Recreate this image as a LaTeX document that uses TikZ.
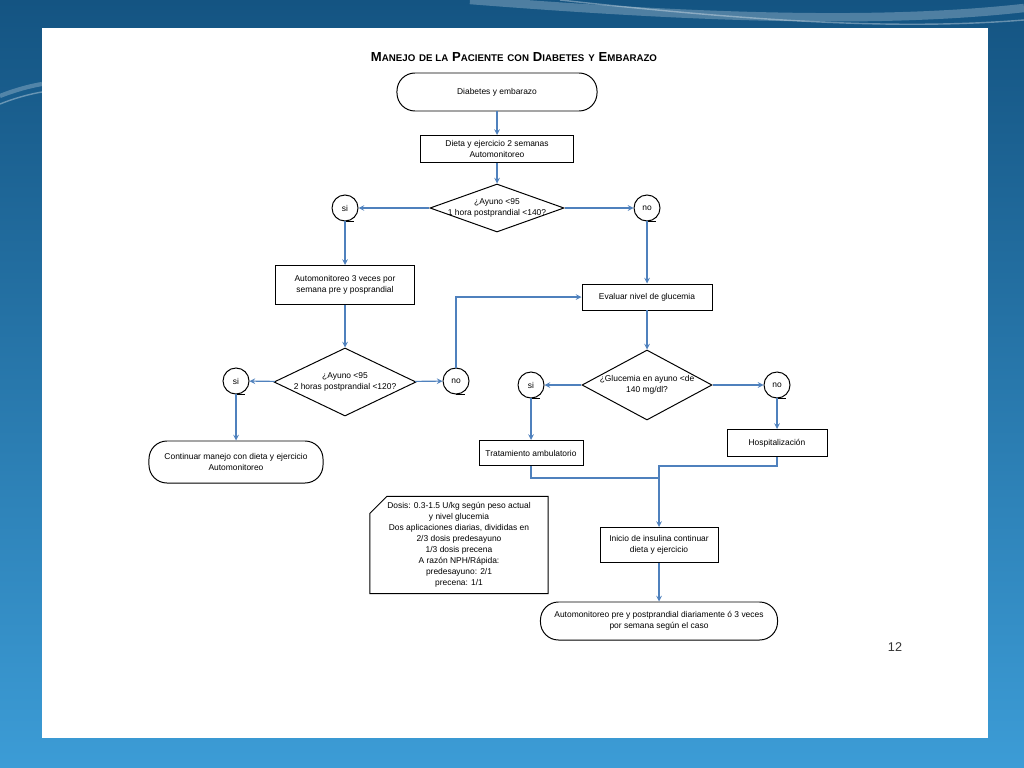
\documentclass[tikz,border=0pt]{standalone}
\usepackage{fontspec}
\setmainfont{Liberation Sans}
\usetikzlibrary{shapes.geometric,shapes.misc}
\definecolor{lineblue}{RGB}{79,129,189}
\definecolor{bgtop}{RGB}{20,84,130}
\definecolor{bgbot}{RGB}{60,156,214}
\newcommand\dtxt{\fontsize{6}{7.8}\selectfont}
\newcommand\tsc[2]{{\fontsize{9.3}{10}\selectfont #1}{\fontsize{6.9}{10}\selectfont #2}}
\tikzset{
  caja/.style={draw,line width=0.7pt,font=\dtxt,align=center,inner sep=1pt},
  term/.style={caja,rounded corners=0.45cm},
  deci/.style={draw,diamond,line width=0.7pt,inner sep=0pt},
  conec/.style={draw,circle,line width=0.7pt,font=\dtxt,minimum size=0.65cm,inner sep=0pt},
  nota/.style={caja,chamfered rectangle,chamfered rectangle corners=north west,chamfered rectangle xsep=0.3cm},
  flecha/.style={draw=lineblue,line width=0.8pt,->},
  linea/.style={draw=lineblue,line width=0.8pt},
}
\begin{document}
\begin{tikzpicture}[x=0.025cm,y=-0.025cm,>=stealth]
\useasboundingbox (0,0) rectangle (1024,768);
% fondo de la diapositiva
\shade[top color=bgtop,bottom color=bgbot] (0,0) rectangle (1024,768);
\draw[white,opacity=0.25,line width=6pt] (470,0) .. controls (700,18) and (880,24) .. (1024,8);
\draw[white,opacity=0.35,line width=1pt] (560,0) .. controls (760,22) and (900,30) .. (1024,20);
\draw[white,opacity=0.35,line width=1pt] (0,104) .. controls (15,98) and (30,94) .. (42,92);
\draw[white,opacity=0.25,line width=3pt] (0,96) .. controls (15,90) and (30,86) .. (42,84);
\fill[white] (42,28) rectangle (988,738);
% titulo
\node (titulo) at (514,57) {\bfseries\tsc{M}{ANEJO} \tsc{}{DE LA} \tsc{P}{ACIENTE} \tsc{}{CON} \tsc{D}{IABETES} \tsc{}{Y} \tsc{E}{MBARAZO}};
% nodos
\node[term,minimum width=5cm,minimum height=0.95cm] (inicio) at (497,92) {Diabetes y embarazo};
\node[caja,minimum width=3.825cm,minimum height=0.675cm] (dieta) at (497,149) {Dieta y ejercicio 2 semanas\\Automonitoreo};
\node[deci,minimum width=3.35cm,minimum height=1.2cm,
  label={[font=\dtxt,align=center]center:{¿Ayuno <95\\1 hora postprandial <140?}}] (d1) at (497,208) {};
\node[conec] (si1) at (345,208) {si};
\node[conec] (no1) at (647,208) {no};
\node[caja,minimum width=3.475cm,minimum height=0.975cm] (auto3) at (345,285) {Automonitoreo 3 veces por\\semana pre y posprandial};
\node[caja,minimum width=3.25cm,minimum height=0.65cm] (eval) at (647,297) {Evaluar nivel de glucemia};
\node[deci,minimum width=3.55cm,minimum height=1.7cm,
  label={[font=\dtxt,align=center]center:{¿Ayuno <95\\2 horas postprandial <120?}}] (d2) at (345,382) {};
\node[conec] (si2) at (236,381) {si};
\node[conec] (no2) at (456,381) {no};
\node[term,minimum width=4.35cm,minimum height=1.05cm] (cont) at (236,462) {Continuar manejo con dieta y ejercicio\\Automonitoreo};
\node[deci,minimum width=3.25cm,minimum height=1.75cm,
  label={[font=\dtxt,align=center]center:{¿Glucemia en ayuno <de\\140 mg/dl?}}] (d3) at (647,385) {};
\node[conec] (si3) at (531,385) {si};
\node[conec] (no3) at (777,385) {no};
\node[caja,minimum width=2.6cm,minimum height=0.625cm] (trat) at (531,453) {Tratamiento ambulatorio};
\node[caja,minimum width=2.5cm,minimum height=0.675cm] (hosp) at (777,443) {Hospitalización};
\node[nota,minimum width=4.45cm,minimum height=2.425cm] (dosis) at (459,545) {Dosis: 0.3-1.5 U/kg según peso actual\\y nivel glucemia\\Dos aplicaciones diarias, divididas en\\2/3 dosis predesayuno\\1/3 dosis precena\\A razón NPH/Rápida:\\predesayuno: 2/1\\precena: 1/1};
\node[caja,minimum width=2.95cm,minimum height=0.875cm] (insul) at (659,545) {Inicio de insulina continuar\\dieta y ejercicio};
\node[term,minimum width=5.925cm,minimum height=0.95cm] (fin) at (659,621) {Automonitoreo pre y postprandial diariamente ó 3 veces\\por semana según el caso};
\node[font=\fontsize{9}{10}\selectfont,text=black!80] (pagina) at (895,647) {12};
% colas de los conectores
\foreach \c in {si1,no1,si2,no2,si3,no3}
  \draw[line width=0.7pt] (\c.south) -- ++(9,0);
% flechas
\draw[flecha] (inicio) -- (dieta);
\draw[flecha] (dieta) -- (d1);
\draw[flecha] (d1) -- (si1);
\draw[flecha] (d1) -- (no1);
\draw[flecha] (si1) -- (auto3);
\draw[flecha] (no1) -- (eval);
\draw[flecha] (auto3) -- (d2);
\draw[flecha] (d2) -- (si2);
\draw[flecha] (d2) -- (no2);
\draw[flecha] (no2.north) |- (eval.west);
\draw[flecha] (si2) -- (cont);
\draw[flecha] (eval) -- (d3);
\draw[flecha] (d3) -- (si3);
\draw[flecha] (d3) -- (no3);
\draw[flecha] (si3) -- (trat);
\draw[flecha] (no3) -- (hosp);
\coordinate (union1) at (659,466);
\coordinate (union2) at (659,478);
\draw[linea] (trat.south) |- (union2);
\draw[flecha] (hosp.south) |- (union1) -- (insul.north);
\draw[flecha] (insul) -- (fin);
\end{tikzpicture}
\end{document}
